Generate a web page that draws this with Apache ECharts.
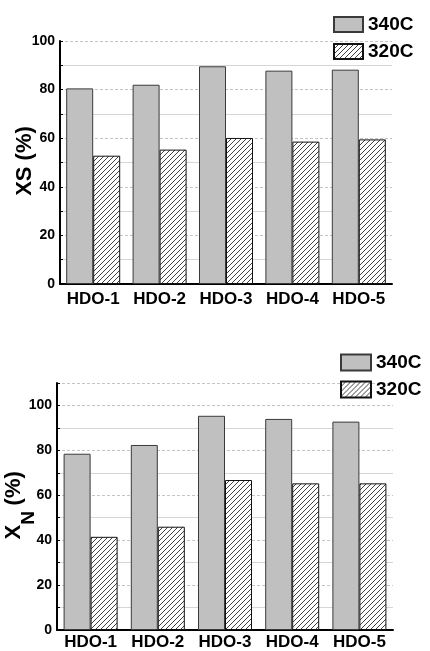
<!DOCTYPE html>
<html>
<head>
<meta charset="utf-8">
<script src="https://cdn.jsdelivr.net/npm/echarts@6/dist/echarts.min.js"></script>
<style>
  html, body { margin: 0; padding: 0; background: #fff; }
  #chart { width: 430px; height: 651px; }
</style>
</head>
<body>
<div id="chart"></div>
<script>
// Catalyst samples and conversions (%) at two temperatures
const categories = ['HDO-1', 'HDO-2', 'HDO-3', 'HDO-4', 'HDO-5'];
const seriesNames = ['340C', '320C'];
const xs340 = [80.5, 82.0, 89.6, 87.8, 88.2];
const xs320 = [52.8, 55.3, 60.1, 58.6, 59.5];
const xn340 = [78.5, 82.4, 95.4, 94.0, 92.8];
const xn320 = [41.5, 46.0, 66.8, 65.3, 65.3];
const xsAxisMax = 100;
const xnAxisMax = 110;

// diagonal hatch tile for the 320C bars
function hatchTile(period) {
  const c = document.createElement('canvas');
  c.width = period; c.height = period;
  const g = c.getContext('2d');
  g.fillStyle = '#fff';
  g.fillRect(0, 0, period, period);
  g.strokeStyle = '#111';
  g.lineWidth = 0.8;
  g.beginPath();
  for (let k = -1; k <= 1; k++) {
    g.moveTo(k * period - 1, period + 1);
    g.lineTo(k * period + period + 1, -1);
  }
  g.stroke();
  return c;
}
const hatch = { image: hatchTile(5), repeat: 'repeat' };

const chart = echarts.init(document.getElementById('chart'), null, { renderer: 'canvas' });

const FONT = 'Liberation Sans, Arial, sans-serif';

function yAxisFor(gridIndex, max) {
  return {
    type: 'value', gridIndex, min: 0, max, interval: 20,
    axisLine: { show: true, lineStyle: { color: '#000', width: 2 } },
    axisTick: { show: true, inside: true, length: 3, lineStyle: { color: '#000', width: 1 } },
    minorTick: { show: true, splitNumber: 2, length: 3, lineStyle: { color: '#000', width: 1 } },
    axisLabel: {
      color: '#000', fontSize: 14, fontWeight: 'bold', fontFamily: FONT, margin: 5,
      formatter: v => (v % 20 === 0 && v <= 100) ? String(v) : ''
    },
    splitLine: { show: true, lineStyle: { color: '#c4c4c4', type: [3, 2], width: 1 } },
    minorSplitLine: { show: true, lineStyle: { color: '#d6d6d6', width: 1 } }
  };
}

function xAxisFor(gridIndex, margin) {
  return {
    type: 'category', gridIndex, data: categories,
    axisLine: { show: true, lineStyle: { color: '#000', width: 2 } },
    axisTick: { show: false },
    axisLabel: { color: '#000', fontSize: 17, fontWeight: 'bold', fontFamily: FONT, margin, interval: 0 },
    splitLine: { show: false }
  };
}

function barSeries(name, data, axisIndex) {
  const solid = name === seriesNames[0];
  return {
    name, type: 'bar', xAxisIndex: axisIndex, yAxisIndex: axisIndex, data,
    barWidth: 27, barGap: '0%',
    itemStyle: solid
      ? { color: '#c0c0c0', borderColor: '#3a3a3a', borderWidth: 1 }
      : { color: hatch, borderColor: '#111', borderWidth: 1 },
    emphasis: { disabled: true },
    animation: false
  };
}

function legendAt(left, top, w, h, gap) {
  return {
    data: seriesNames,
    icon: 'rect',
    orient: 'vertical', left, top, padding: 0,
    itemWidth: w, itemHeight: h, itemGap: gap, selectedMode: false,
    textStyle: { color: '#000', fontSize: 19, fontWeight: 'bold', fontFamily: FONT }
  };
}

chart.setOption({
  animation: false,
  backgroundColor: '#fff',
  grid: [
    { left: 60, right: 38, top: 41, bottom: 367 },
    { left: 57, right: 37, top: 383, bottom: 18 }
  ],
  xAxis: [xAxisFor(0, 7), xAxisFor(1, 4)],
  yAxis: [yAxisFor(0, xsAxisMax), yAxisFor(1, xnAxisMax)],
  legend: [
    legendAt(333, 15, 29, 15, 8),
    legendAt(340, 353, 30, 16, 8)
  ],
  series: [
    barSeries(seriesNames[0], xs340, 0),
    barSeries(seriesNames[1], xs320, 0),
    barSeries(seriesNames[0], xn340, 1),
    barSeries(seriesNames[1], xn320, 1)
  ],
  graphic: [
    {
      type: 'text', x: 25, y: 161, rotation: Math.PI / 2,
      style: { text: 'XS (%)', fill: '#000', font: 'bold 22px ' + FONT, textAlign: 'center', textVerticalAlign: 'middle' }
    },
    {
      type: 'text', x: 13.5, y: 539.5, rotation: Math.PI / 2,
      style: { text: 'X', fill: '#000', font: 'bold 22px ' + FONT, textAlign: 'left', textVerticalAlign: 'middle' }
    },
    {
      type: 'text', x: 29, y: 524.8, rotation: Math.PI / 2,
      style: { text: 'N', fill: '#000', font: 'bold 19px ' + FONT, textAlign: 'left', textVerticalAlign: 'middle' }
    },
    {
      type: 'text', x: 13.5, y: 511.5, rotation: Math.PI / 2,
      style: { text: ' (%)', fill: '#000', font: 'bold 22px ' + FONT, textAlign: 'left', textVerticalAlign: 'middle' }
    }
  ]
});
</script>
</body>
</html>
